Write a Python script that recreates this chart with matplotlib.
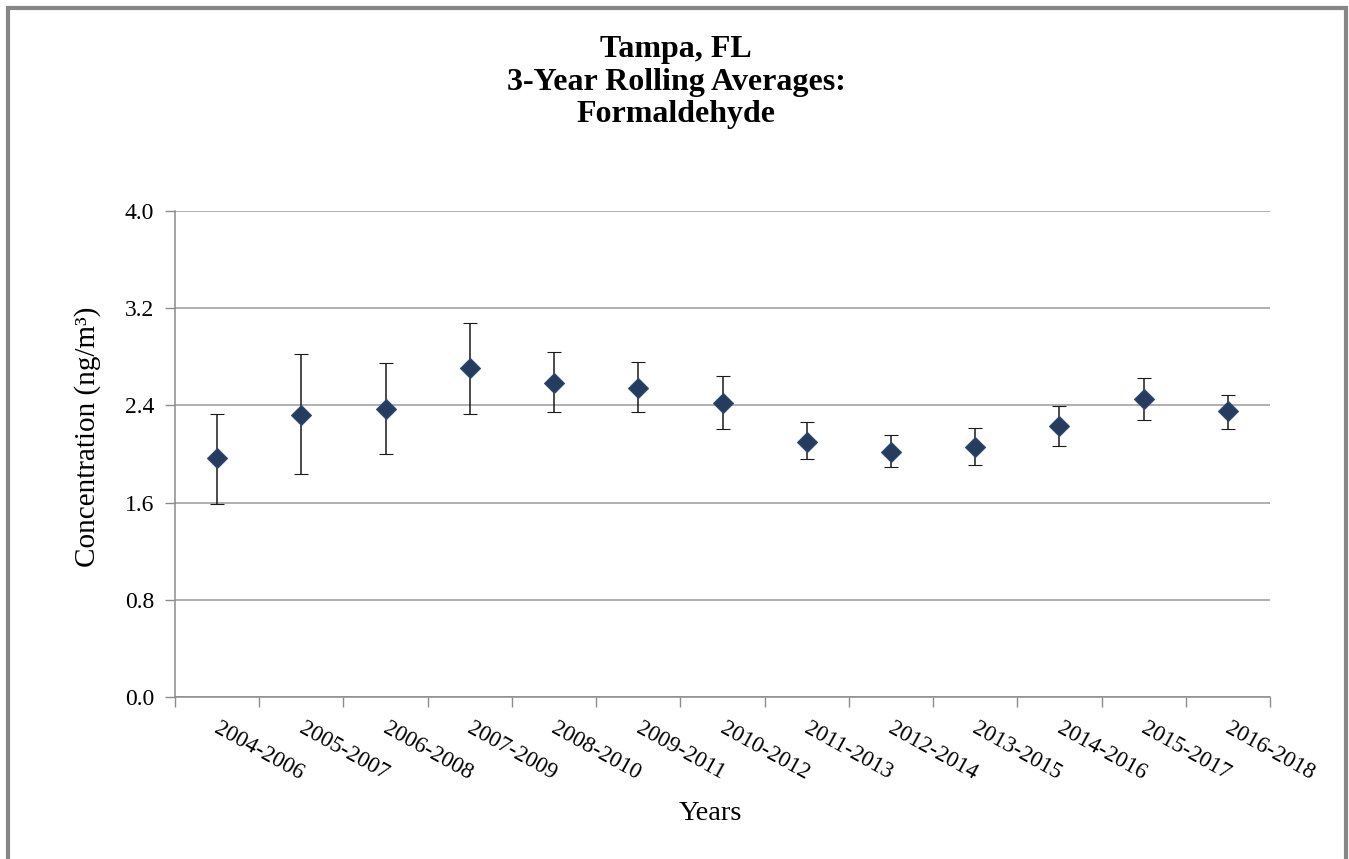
import matplotlib
matplotlib.use("Agg")
import matplotlib.pyplot as plt
from matplotlib.patches import Rectangle
import matplotlib.transforms as mtransforms
import numpy as np

categories = ["2004-2006", "2005-2007", "2006-2008", "2007-2009", "2008-2010",
              "2009-2011", "2010-2012", "2011-2013", "2012-2014", "2013-2015",
              "2014-2016", "2015-2017", "2016-2018"]
means = [1.966, 2.320, 2.372, 2.707, 2.586, 2.545, 2.420, 2.100, 2.020, 2.058, 2.230, 2.455, 2.350]
upper = [2.333, 2.822, 2.751, 3.075, 2.839, 2.759, 2.643, 2.266, 2.157, 2.215, 2.395, 2.627, 2.487]
lower = [1.591, 1.835, 1.997, 2.331, 2.342, 2.342, 2.206, 1.955, 1.893, 1.910, 2.066, 2.280, 2.206]
yticks = [0.0, 0.8, 1.6, 2.4, 3.2, 4.0]

W, H = 1349, 859
fig = plt.figure(figsize=(W / 100, H / 100), dpi=100)
SERIF = ["Liberation Serif", "DejaVu Serif"]

ax = fig.add_axes([175 / W, 1 - 697 / H, (1270 - 175) / W, (697 - 211) / H])
x = np.arange(len(categories))
m = np.array(means)
yerr = np.vstack([m - np.array(lower), np.array(upper) - m])

ax.errorbar(x, m, yerr=yerr, fmt="D", ms=9.8, mfc="#253C5E", mec="#2F4B73", mew=0.8,
            ecolor="#1a1a1a", elinewidth=1.1, capsize=4.7, capthick=1.1, zorder=3)

ax.set_xlim(-0.5, len(categories) - 0.5)
ax.set_ylim(0, 4.0)
ax.set_yticks(yticks)
ax.set_yticklabels([f"{v:.1f}" for v in yticks])
ax.grid(axis="y", color="#9a9a9a", linewidth=1.1, zorder=0)
ax.set_axisbelow(True)

ax.set_xticks(x)
ax.set_xticks(np.arange(-0.5, len(categories), 1.0), minor=True)
ax.tick_params(axis="x", which="major", length=0, pad=15)
ax.tick_params(axis="x", which="minor", length=7, color="#8c8c8c", width=1.0, direction="out")
ax.tick_params(axis="y", length=7, color="#8c8c8c", width=1.0, direction="out", pad=8)
ax.set_xticklabels(categories, rotation=-29, ha="left", va="top", rotation_mode="anchor",
                   family=SERIF, fontsize=16.5)
offset = mtransforms.ScaledTranslation(4 / 100, 0, fig.dpi_scale_trans)
for lbl in ax.get_xticklabels():
    lbl.set_transform(lbl.get_transform() + offset)
for lbl in ax.get_yticklabels():
    lbl.set_family(SERIF)
    lbl.set_fontsize(17)

for side in ["top", "right"]:
    ax.spines[side].set_visible(False)
for side in ["left", "bottom"]:
    ax.spines[side].set_color("#8c8c8c")
    ax.spines[side].set_linewidth(1.1)

# titles
fig.text(676 / W, 1 - 56.7 / H, "Tampa, FL", ha="center", va="baseline",
         family=SERIF, fontsize=23, fontweight="bold")
fig.text(676 / W, 1 - 90 / H, "3-Year Rolling Averages:", ha="center", va="baseline",
         family=SERIF, fontsize=23, fontweight="bold")
fig.text(676 / W, 1 - 121.7 / H, "Formaldehyde", ha="center", va="baseline",
         family=SERIF, fontsize=23, fontweight="bold")

fig.text(88 / W, 1 - 437 / H, "Concentration (ng/m³)", rotation=90, ha="center", va="center",
         family=SERIF, fontsize=21)
fig.text(710 / W, 1 - 813 / H, "Years", ha="center", va="center", family=SERIF, fontsize=20.5)

# outer chart border (bottom edge lies beyond the image)
fig.add_artist(Rectangle((8 / W, -0.2), (1345.5 - 8) / W, 1 - 8 / H + 0.2,
                         transform=fig.transFigure, fill=False, edgecolor="#878787",
                         linewidth=3.0, clip_on=False))

fig.savefig("out.png", dpi=100, facecolor="white")
